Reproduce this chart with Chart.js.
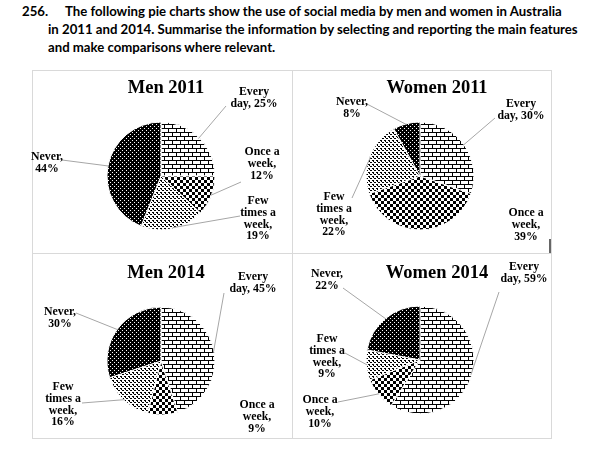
<!DOCTYPE html>
<html>
<head>
<meta charset="utf-8">
<script src="https://cdn.jsdelivr.net/npm/chart.js@4.4.1/dist/chart.umd.min.js"></script>
<style>
  html, body { margin: 0; padding: 0; background: #fff; }
  #page { position: relative; width: 600px; height: 453px; overflow: hidden; }
  .hdr { position: absolute; font-family: Lato, sans-serif; font-weight: 700; font-size: 13.2px; color: #000; white-space: nowrap; line-height: 16px; }
  .panel { position: absolute; border: 1px solid #d9d9d9; box-sizing: border-box; }
  canvas { position: absolute; left: 0; top: 0; }
</style>
</head>
<body>
<div id="page">
  <div class="hdr" style="left:22px;top:3px">256.</div>
  <div class="hdr" style="left:65px;top:3px">The following pie charts show the use of social media by men and women in Australia</div>
  <div class="hdr" style="left:48px;top:21px">in 2011 and 2014. Summarise the information by selecting and reporting the main features</div>
  <div class="hdr" style="left:48px;top:39px">and make comparisons where relevant.</div>

  <div class="panel" style="left:32px;top:70px;width:261px;height:184px"></div>
  <div class="panel" style="left:292px;top:70px;width:260px;height:184px"></div>
  <div class="panel" style="left:32px;top:253px;width:261px;height:186px"></div>
  <div class="panel" style="left:292px;top:253px;width:260px;height:186px"></div>
  <div style="position:absolute;left:549px;top:239px;width:2px;height:14px;background:#666"></div>

  <canvas id="c0" width="600" height="453"></canvas>
  <canvas id="c1" width="600" height="453"></canvas>
  <canvas id="c2" width="600" height="453"></canvas>
  <canvas id="c3" width="600" height="453"></canvas>
</div>
<script>
// Data
const categories = ['Every day', 'Once a week', 'Few times a week', 'Never'];
const men2011 = [25, 12, 19, 44];
const women2011 = [30, 39, 22, 8];
const men2014 = [45, 9, 16, 30];
const women2014 = [59, 10, 9, 22];
const chartTitles = ['Men 2011', 'Women 2011', 'Men 2014', 'Women 2014'];

// how each label wraps, {v} is the value
const labelLines = [
    ['Every', 'day, {v}%'],
    ['Once a', 'week,', '{v}%'],
    ['Few', 'times a', 'week,', '{v}%'],
    ['Never,', '{v}%']
];

const W = 600, H = 453;
const LINE_H = 11.8;

// layout: pie centre, title position, label spots (x, first line y, leader start)
const layouts = [
    {
        cx: 161, cy: 176, tx: 166, ty: 93,
        spots: [
            { x: 254, y: 92, lead: [226, 106] },
            { x: 262, y: 152, lead: [241, 182] },
            { x: 258, y: 201, lead: [240, 216] },
            { x: 47, y: 157, lead: [62, 160] }
        ]
    },
    {
        cx: 420, cy: 176, tx: 437, ty: 93,
        spots: [
            { x: 521, y: 104, lead: [495, 118] },
            { x: 526, y: 213, lead: null },
            { x: 334, y: 197, lead: [352, 198] },
            { x: 352, y: 102, lead: [367, 104] }
        ]
    },
    {
        cx: 161, cy: 361, tx: 166, ty: 278,
        spots: [
            { x: 253, y: 277, lead: [224, 293] },
            { x: 257, y: 405, lead: null },
            { x: 63, y: 387, lead: [82, 403] },
            { x: 60, y: 312, lead: [76, 313] }
        ]
    },
    {
        cx: 420, cy: 360, tx: 437, ty: 278,
        spots: [
            { x: 524, y: 267, lead: [499, 292] },
            { x: 320, y: 400, lead: [338, 402] },
            { x: 327, y: 339, lead: [345, 353] },
            { x: 327, y: 274, lead: [343, 288] }
        ]
    }
];

function makeTile(size, paint) {
    const c = document.createElement('canvas');
    c.width = size; c.height = size;
    const g = c.getContext('2d');
    g.fillStyle = '#fff';
    g.fillRect(0, 0, size, size);
    g.fillStyle = '#000';
    paint(g);
    return g.createPattern(c, 'repeat');
}

// Excel-like pattern fills
const brick = makeTile(8, g => {
    g.fillRect(0, 0, 8, 1);
    g.fillRect(0, 0, 1, 4);
    g.fillRect(0, 4, 8, 1);
    g.fillRect(4, 4, 1, 4);
});
const checker = makeTile(6, g => {
    g.fillRect(0, 0, 3, 3);
    g.fillRect(3, 3, 3, 3);
});
const dotted = makeTile(4, g => {
    g.fillRect(0, 0, 2, 1);
    g.fillRect(2, 2, 2, 1);
    g.fillRect(1, 1, 1, 1);
});
const dark = makeTile(4, g => {
    g.fillRect(0, 0, 4, 4);
    g.fillStyle = '#fff';
    g.fillRect(0, 0, 1, 1);
    g.fillRect(2, 2, 1, 1);
});
const fills = [brick, checker, dotted, dark];

const sliceLabels = {
    id: 'sliceLabels',
    afterDraw(chart, args, opts) {
        const ctx = chart.ctx;
        const meta = chart.getDatasetMeta(0);
        const values = chart.data.datasets[0].data;
        ctx.save();
        ctx.fillStyle = '#000';
        ctx.textAlign = 'center';
        ctx.textBaseline = 'alphabetic';
        ctx.font = 'bold 18.5px "Liberation Serif"';
        ctx.fillText(opts.title, opts.tx, opts.ty);

        ctx.font = 'bold 11.8px "Liberation Serif"';
        ctx.textBaseline = 'middle';
        meta.data.forEach((arc, i) => {
            const spot = opts.spots[i];
            if (spot.lead) {
                const mid = (arc.startAngle + arc.endAngle) / 2;
                const ex = arc.x + Math.cos(mid) * (arc.outerRadius - 1);
                const ey = arc.y + Math.sin(mid) * (arc.outerRadius - 1);
                ctx.strokeStyle = '#a6a6a6';
                ctx.lineWidth = 1;
                ctx.beginPath();
                ctx.moveTo(spot.lead[0], spot.lead[1]);
                ctx.lineTo(ex, ey);
                ctx.stroke();
            }
            labelLines[i].forEach((s, k) => {
                ctx.fillText(s.replace('{v}', values[i]), spot.x, spot.y + k * LINE_H);
            });
        });
        ctx.restore();
    }
};

[men2011, women2011, men2014, women2014].forEach((vals, n) => {
    const lay = layouts[n];
    new Chart(document.getElementById('c' + n), {
        type: 'pie',
        data: {
            labels: categories,
            datasets: [{
                data: vals,
                backgroundColor: fills,
                borderColor: '#fff',
                borderWidth: 1
            }]
        },
        options: {
            responsive: false,
            animation: false,
            radius: 54,
            layout: {
                padding: {
                    left: lay.cx - 60,
                    right: W - lay.cx - 60,
                    top: lay.cy - 60,
                    bottom: H - lay.cy - 60
                }
            },
            plugins: {
                legend: { display: false },
                tooltip: { enabled: false },
                sliceLabels: { title: chartTitles[n], tx: lay.tx, ty: lay.ty, spots: lay.spots }
            }
        },
        plugins: [sliceLabels]
    });
});
</script>
</body>
</html>
